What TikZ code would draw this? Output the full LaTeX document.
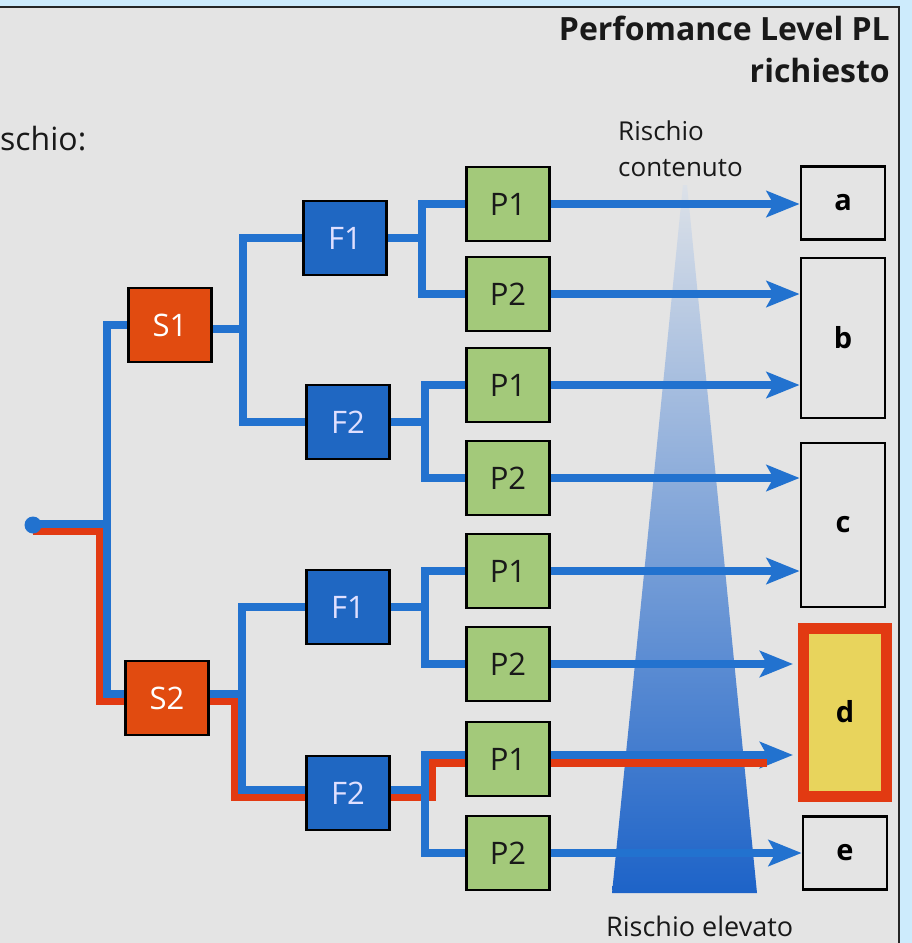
\documentclass[tikz,border=0pt]{standalone}
\usepackage{fontspec}
\setmainfont{Open Sans}
\usetikzlibrary{arrows.meta}
\definecolor{bgblue}{HTML}{CDEBFC}
\definecolor{panel}{HTML}{E4E4E4}
\definecolor{wblue}{HTML}{2272CF}
\definecolor{wred}{HTML}{E23A12}
\definecolor{sred}{HTML}{E14B10}
\definecolor{fblue}{HTML}{1F67C2}
\definecolor{pgreen}{HTML}{A3C97A}
\definecolor{dyellow}{HTML}{E8D45C}
\definecolor{tritop}{HTML}{DCE1E8}
\definecolor{trimid}{HTML}{6F9FD9}
\definecolor{tribot}{HTML}{1D63C8}
\pgfdeclarelayer{base}
\pgfdeclarelayer{wires}
\pgfsetlayers{base,wires,main}
\begin{document}
\begin{tikzpicture}[x=1pt,y=-1pt,
  boxbase/.style={draw=black,line width=2.8pt,minimum width=83pt,minimum height=74pt,inner sep=0pt,
    font=\fontsize{31}{34}\selectfont},
  sbox/.style={boxbase,fill=sred,text=white},
  fbox/.style={boxbase,fill=fblue,text=white!88!blue},
  pbox/.style={boxbase,fill=pgreen,text=black!90},
  tbox/.style={boxbase,fill=panel,text=black,font=\fontsize{29}{32}\selectfont\bfseries},
  wire/.style={draw=wblue,line width=7.8pt,line join=miter},
  rwire/.style={draw=wred,line width=7.5pt,line join=miter},
  arr/.style={wire,-{Stealth[length=33pt,width=26pt,inset=7pt]}},
  lbl/.style={inner sep=0pt,text=black!90}
]
\useasboundingbox (0,0) rectangle (912,943);
\begin{pgfonlayer}{base}
\fill[bgblue] (0,0) rectangle (912,943);
\fill[panel] (0,7) rectangle (899,943);
\draw[line width=2.5pt,black!85] (0,7) -- (899,7) -- (899,943);
\shade[top color=tritop,middle color=trimid,bottom color=tribot]
  (683,185) -- (687,185) -- (757,893) -- (612,893) -- cycle;
\end{pgfonlayer}

% texts
\node[lbl,anchor=base east,font=\fontsize{32}{36}\selectfont\bfseries] (t1) at (890,40) {Perfomance Level PL};
\node[lbl,anchor=base east,font=\fontsize{32}{36}\selectfont\bfseries] (t2) at (890,82) {richiesto};
\node[lbl,anchor=base west,font=\fontsize{32}{36}\selectfont] (t3) at (0,150) {schio:};
\node[lbl,anchor=base west,font=\fontsize{26}{30}\selectfont] (t4) at (618,140) {Rischio};
\node[lbl,anchor=base west,font=\fontsize{26}{30}\selectfont] (t5) at (618,176) {contenuto};
\node[lbl,anchor=base west,font=\fontsize{27}{30}\selectfont] (t6) at (606,936) {Rischio elevato};

% nodes
\node[circle,fill=wblue,minimum size=17pt,inner sep=0pt] (start) at (33,525) {};
\node[sbox] (s1) at (170,325) {S1};
\node[sbox] (s2) at (167,698) {S2};
\node[fbox] (f1) at (345,238) {F1};
\node[fbox] (f2) at (348,422) {F2};
\node[fbox] (f3) at (348,607) {F1};
\node[fbox] (f4) at (348,793) {F2};
\node[pbox] (p1) at (508,204) {P1};
\node[pbox] (p2) at (508,294) {P2};
\node[pbox] (p3) at (508,385) {P1};
\node[pbox] (p4) at (508,478) {P2};
\node[pbox] (p5) at (508,571) {P1};
\node[pbox] (p6) at (508,664) {P2};
\node[pbox] (p7) at (508,759) {P1};
\node[pbox] (p8) at (508,853) {P2};
\node[tbox,minimum width=84pt,minimum height=73pt] (ta) at (843,203) {a};
\node[tbox,minimum width=84pt,minimum height=160pt] (tb) at (843,338) {b};
\node[tbox,minimum width=84pt,minimum height=164pt] (tc) at (843,525) {c};
\node[boxbase,draw=wred,line width=11pt,fill=dyellow,minimum width=83pt,minimum height=168pt,
  font=\fontsize{29}{32}\selectfont\bfseries] (td) at (845,712) {d};
\node[tbox,minimum width=84pt,minimum height=73pt] (te) at (845,853) {e};

% junctions
\coordinate (jb) at (107,524);
\coordinate (jr) at (100,531);
\coordinate (js1) at (243,329);
\coordinate (js2) at (242,694);
\coordinate (jr2) at (235,701);
\coordinate (jf1) at (422,238);
\coordinate (jf2) at (425,422);
\coordinate (jf3) at (425,607);
\coordinate (jf4) at (425,790);
\coordinate (jr4) at (432,797);
\coordinate (p7o) at ([yshift=4pt]p7.east);
\coordinate (p7r) at ([yshift=-4pt]p7.east);
\coordinate (rend) at (767,763);

\begin{pgfonlayer}{wires}
% red path
\draw[rwire] ([yshift=-6pt]start.center) -- (jr) |- ([yshift=-3pt]s2.west);
\draw[rwire] ([yshift=-3pt]s2.east) -- (jr2) |- ([yshift=-4pt]f4.west);
\draw[rwire] ([yshift=-4pt]f4.east) -- (jr4) |- ([yshift=-4pt]p7.west);
% blue tree
\draw[wire] ([yshift=1pt]start.center) -- (jb);
\draw[wire] (s1.west) -| (jb) |- ([yshift=4pt]s2.west);
\draw[wire] ([yshift=-4pt]s1.east) -- (js1);
\draw[wire] (f1.west) -| (js1) |- (f2.west);
\draw[wire] ([yshift=4pt]s2.east) -- (js2);
\draw[wire] (f3.west) -| (js2) |- ([yshift=3pt]f4.west);
\draw[wire] (f1.east) -- (jf1);
\draw[wire] (p1.west) -| (jf1) |- (p2.west);
\draw[wire] (f2.east) -- (jf2);
\draw[wire] (p3.west) -| (jf2) |- (p4.west);
\draw[wire] (f3.east) -- (jf3);
\draw[wire] (p5.west) -| (jf3) |- (p6.west);
\draw[wire] ([yshift=3pt]f4.east) -- (jf4);
\draw[wire] ([yshift=4pt]p7.west) -| (jf4) |- (p8.west);
% arrows
\draw[arr] (p1.east) -- (p1.east -| ta.west);
\draw[arr] (p2.east) -- (p2.east -| tb.west);
\draw[arr] (p3.east) -- (p3.east -| tb.west);
\draw[arr] (p4.east) -- (p4.east -| tc.west);
\draw[arr] (p5.east) -- (p5.east -| tc.west);
\draw[arr,shorten >=5pt] (p6.east) -- (p6.east -| td.west);
\draw[arr,shorten >=5pt] (p7o) -- (p7o -| td.west);
\draw[rwire] (p7r) -- (rend);
\draw[arr] (p8.east) -- (p8.east -| te.west);
\end{pgfonlayer}
\end{tikzpicture}
\end{document}
